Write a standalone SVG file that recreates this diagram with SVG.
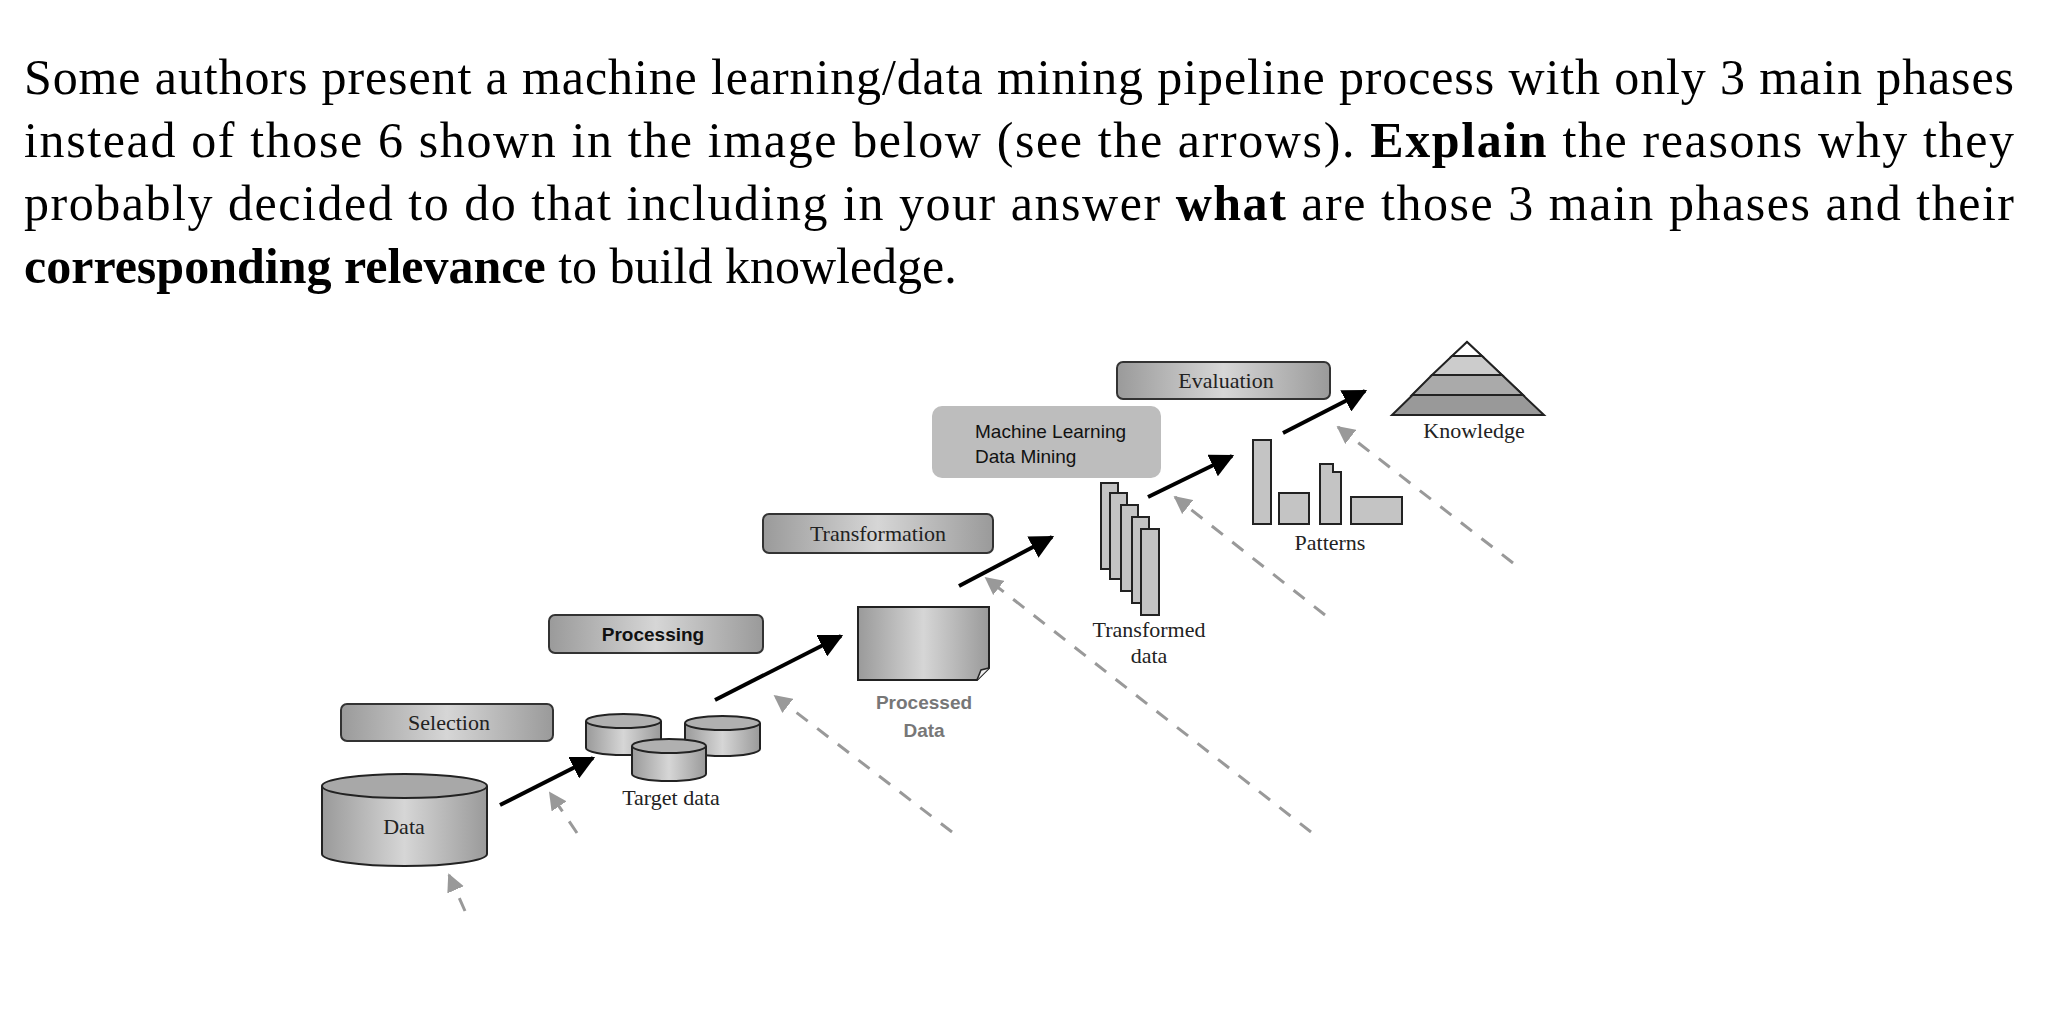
<svg xmlns="http://www.w3.org/2000/svg" width="2058" height="1022" viewBox="0 0 2058 1022">
<defs>
<linearGradient id="g" x1="0" x2="1" y1="0" y2="0"><stop offset="0" stop-color="#9a9a9a"/><stop offset="0.5" stop-color="#d6d6d6"/><stop offset="1" stop-color="#9a9a9a"/></linearGradient>
<marker id="ab" viewBox="0 0 10 10" refX="9" refY="5" markerWidth="6" markerHeight="6" orient="auto"><path d="M0,0L10,5L0,10z" fill="#000"/></marker>
<marker id="ag" viewBox="0 0 10 10" refX="9" refY="5" markerWidth="6" markerHeight="6" orient="auto"><path d="M0,0L10,5L0,10z" fill="#999"/></marker>
</defs>
<style>
.q{font-family:"Liberation Serif",serif;font-size:50px;fill:#000}
.b{font-weight:bold}
.box{fill:url(#g);stroke:#333;stroke-width:2}
.s{font-family:"Liberation Serif",serif;font-size:22px;fill:#222;text-anchor:middle}
.ss{font-family:"Liberation Sans",sans-serif;font-size:19px;fill:#111}
.cyl{fill:url(#g);stroke:#222;stroke-width:2}
.bar{fill:#c4c4c4;stroke:#222;stroke-width:2}
.blk{stroke:#000;stroke-width:4;fill:none;marker-end:url(#ab)}
.gr{stroke:#999;stroke-width:3;stroke-dasharray:14 12;fill:none;marker-end:url(#ag)}
</style>
<g id="question">
<text class="q" x="24" y="94" textLength="1990" lengthAdjust="spacing">Some authors present a machine learning/data mining pipeline process with only 3 main phases</text>
<text class="q" x="24" y="157" textLength="1990" lengthAdjust="spacing">instead of those 6 shown in the image below (see the arrows). <tspan class="b">Explain</tspan> the reasons why they</text>
<text class="q" x="24" y="220" textLength="1990" lengthAdjust="spacing">probably decided to do that including in your answer <tspan class="b">what</tspan> are those 3 main phases and their</text>
<text class="q" x="24" y="283"><tspan class="b">corresponding relevance</tspan> to build knowledge.</text>
</g>
<g id="connectors">
<line class="blk" x1="500" y1="805" x2="593" y2="758"/>
<line class="blk" x1="715" y1="700" x2="841" y2="636"/>
<line class="blk" x1="959" y1="586" x2="1052" y2="537"/>
<line class="blk" x1="1148" y1="497" x2="1232" y2="456"/>
<line class="blk" x1="1283" y1="433" x2="1365" y2="391"/>
<line class="gr" x1="465" y1="911" x2="449" y2="875"/>
<line class="gr" x1="577" y1="833" x2="550" y2="793"/>
<line class="gr" x1="952" y1="832" x2="775" y2="696"/>
<line class="gr" x1="1311" y1="832" x2="986" y2="578"/>
<line class="gr" x1="1325" y1="615" x2="1175" y2="497"/>
<line class="gr" x1="1513" y1="563" x2="1338" y2="427"/>
</g>
<g id="selection"><rect class="box" x="341" y="704" width="212" height="37" rx="6"/><text class="s" x="449" y="730">Selection</text></g>
<g id="processing"><rect class="box" x="549" y="615" width="214" height="38" rx="6"/><text class="ss b" x="653" y="641" text-anchor="middle">Processing</text></g>
<g id="transformation"><rect class="box" x="763" y="514" width="230" height="39" rx="6"/><text class="s" x="878" y="541">Transformation</text></g>
<g id="ml"><rect x="932" y="406" width="229" height="72" rx="10" fill="#bdbdbd"/><text class="ss" x="975" y="438" font-size="18">Machine Learning</text><text class="ss" x="975" y="463" font-size="18">Data Mining</text></g>
<g id="evaluation"><rect class="box" x="1117" y="362" width="213" height="37" rx="6"/><text class="s" x="1226" y="388">Evaluation</text></g>
<g id="data">
<path class="cyl" d="M322,786 L322,854 A82.5,12 0 0 0 487,854 L487,786"/>
<ellipse cx="404.5" cy="786" rx="82.5" ry="12" fill="#a8a8a8" stroke="#222" stroke-width="2"/>
<text class="s" x="404" y="834">Data</text>
</g>
<g id="target">
<path class="cyl" d="M586,721 L586,748 A37.5,7 0 0 0 661,748 L661,721"/><ellipse cx="623.5" cy="721" rx="37.5" ry="7" fill="#b0b0b0" stroke="#222" stroke-width="2"/>
<path class="cyl" d="M685,723 L685,749 A37.5,7 0 0 0 760,749 L760,723"/><ellipse cx="722.5" cy="723" rx="37.5" ry="7" fill="#b0b0b0" stroke="#222" stroke-width="2"/>
<path class="cyl" d="M632,746 L632,774 A37,7 0 0 0 706,774 L706,746"/><ellipse cx="669" cy="746" rx="37" ry="7" fill="#b0b0b0" stroke="#222" stroke-width="2"/>
<text class="s" x="671" y="805">Target data</text>
</g>
<g id="processed">
<path d="M858,607 L989,607 L989,668 L977,680 L858,680 Z" fill="url(#g)" stroke="#222" stroke-width="2"/>
<path d="M977,680 L981,670 L989,668" fill="#eee" stroke="#222" stroke-width="1.5"/>
<text class="ss b" x="924" y="709" text-anchor="middle" style="fill:#777">Processed</text>
<text class="ss b" x="924" y="737" text-anchor="middle" style="fill:#777">Data</text>
</g>
<g id="transformed">
<rect class="bar" x="1101" y="483" width="17" height="86"/>
<rect class="bar" x="1110" y="493" width="17" height="86"/>
<rect class="bar" x="1121" y="505" width="17" height="86"/>
<rect class="bar" x="1132" y="517" width="17" height="86"/>
<rect class="bar" x="1141" y="529" width="18" height="86"/>
<text class="s" x="1149" y="637">Transformed</text>
<text class="s" x="1149" y="663">data</text>
</g>
<g id="patterns">
<rect class="bar" x="1253" y="440" width="18" height="84"/>
<rect class="bar" x="1279" y="493" width="30" height="31"/>
<path class="bar" d="M1320,464 L1333,464 L1333,472 L1341,472 L1341,524 L1320,524 Z"/>
<rect class="bar" x="1351" y="497" width="51" height="27"/>
<text class="s" x="1330" y="550">Patterns</text>
</g>
<g id="knowledge">
<path d="M1467,342 L1544,415 L1392,415 Z" fill="#999" stroke="#222" stroke-width="2"/>
<path d="M1467,342 L1482,356 L1452,356 Z" fill="#fff" stroke="#222" stroke-width="2"/>
<path d="M1452,356 L1482,356 L1502,375 L1432,375 Z" fill="#ccc" stroke="#222" stroke-width="2"/>
<path d="M1432,375 L1502,375 L1523,395 L1412,395 Z" fill="#aaa" stroke="#222" stroke-width="2"/>
<text class="s" x="1474" y="438">Knowledge</text>
</g>
</svg>
